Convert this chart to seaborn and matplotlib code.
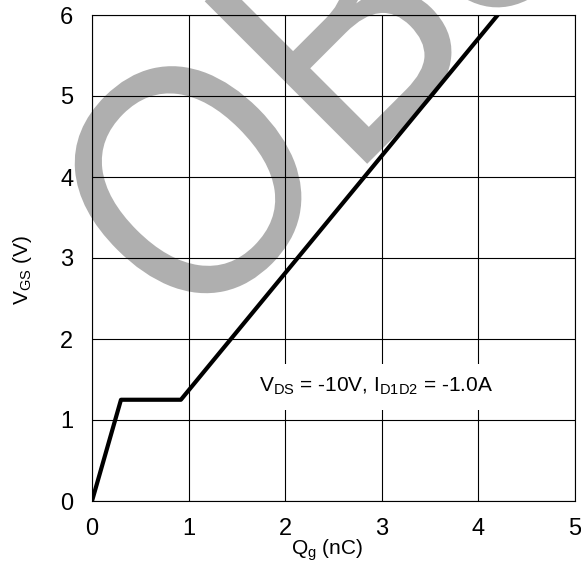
import matplotlib
matplotlib.use("Agg")
import matplotlib.pyplot as plt
import seaborn as sns
import pandas as pd
from matplotlib.textpath import TextPath
from matplotlib.patches import PathPatch
from matplotlib.font_manager import FontProperties
from matplotlib.transforms import Affine2D

# Gate charge curve
qg_nc = [0.0, 0.30, 0.92, 4.20]
vgs_v = [0.0, 1.25, 1.25, 6.00]

x_ticks = [0, 1, 2, 3, 4, 5]
y_ticks = [0, 1, 2, 3, 4, 5, 6]

condition_label = r"V$_{DS}$ = -10V, I$_{D1D2}$ = -1.0A"
watermark_word = "OBSOLETE"

sns.set_theme(style="white")
plt.rcParams["font.family"] = ["Liberation Sans", "DejaVu Sans"]
plt.rcParams["mathtext.default"] = "regular"

W, H = 581, 562
fig = plt.figure(figsize=(W / 100, H / 100), dpi=100)
fig.patch.set_facecolor("white")

# axes box in pixel terms: left 92, right 575, top 15, bottom 501
ax = fig.add_axes([92 / W, 1 - 501 / H, (575 - 92) / W, (501 - 15) / H])
ax.set_facecolor("none")

# large grey diagonal watermark behind the grid
fp = FontProperties(family="Liberation Sans")
tp = TextPath((0, 0), watermark_word, size=334, prop=fp)
tr = (Affine2D().scale(0.875, 1.0).rotate_deg(45)
      .translate(189.5, H - 341.5).scale(1 / 100) + fig.dpi_scale_trans)
fig.add_artist(PathPatch(tp, transform=tr, facecolor="#afafaf",
                         edgecolor="none", zorder=-1))

df = pd.DataFrame({"Qg": qg_nc, "VGS": vgs_v})
sns.lineplot(data=df, x="Qg", y="VGS", sort=False, estimator=None,
             color="black", linewidth=3.0, ax=ax, zorder=3)

ax.set_xlim(0, 5)
ax.set_ylim(0, 6)
ax.set_xticks(x_ticks)
ax.set_yticks(y_ticks)
ax.grid(True, color="black", linewidth=0.8)
ax.set_axisbelow(True)
for s in ax.spines.values():
    s.set_visible(True)
    s.set_color("black")
    s.set_linewidth(0.8)
ax.tick_params(axis="both", length=0, labelsize=17, colors="black")
ax.tick_params(axis="y", pad=13.5)
ax.tick_params(axis="x", pad=12.5)

ax.set_xlabel(r"Q$_g$ (nC)", fontsize=15, color="black")
ax.xaxis.label.set_va("baseline")
ax.xaxis.set_label_coords((327 - 92) / 483, (501 - 555) / 486)
ax.set_ylabel(r"V$_{GS}$ (V)", fontsize=15, color="black")
ax.yaxis.label.set_va("center")
ax.yaxis.set_label_coords((23 - 92) / 483, (501 - 270) / 486)

ax.text(2.94, 1.345, condition_label, fontsize=15, ha="center",
        va="baseline", color="black", zorder=4,
        bbox=dict(boxstyle="square,pad=0.6", facecolor="white",
                  edgecolor="none"))

fig.savefig("out.png", dpi=100, facecolor="white")
